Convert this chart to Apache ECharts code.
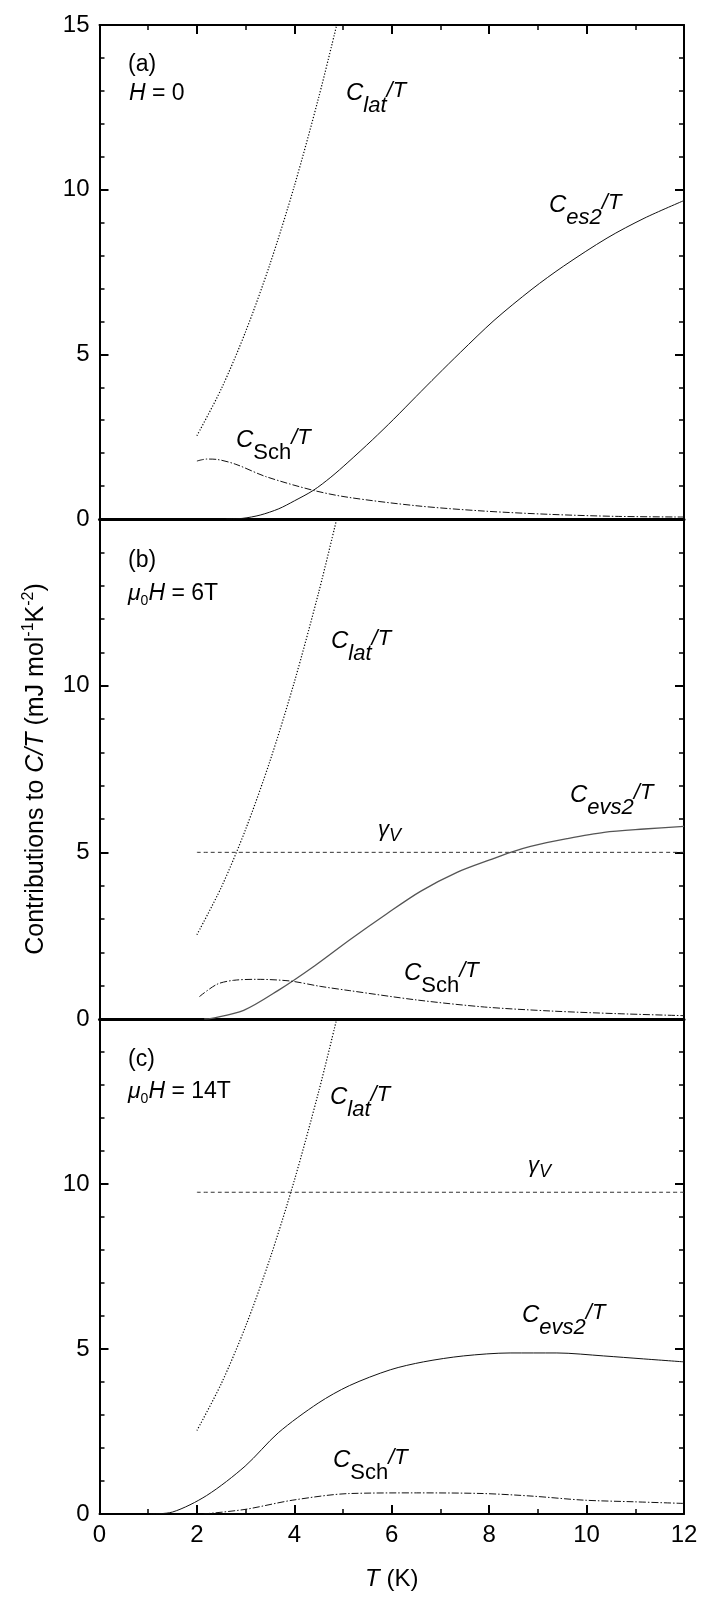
<!DOCTYPE html>
<html><head><meta charset="utf-8">
<script src="https://cdn.jsdelivr.net/npm/echarts@6/dist/echarts.min.js"></script>
<style>html,body{margin:0;padding:0;background:#fff}#c{width:702px;height:1597px}</style>
</head><body><div id="c"></div>
<script>
// ---- data ----
const xTicks = [0, 2, 4, 6, 8, 10, 12];
const yTicks = [0, 5, 10, 15];
// lattice contribution (same in every panel)
const latT = [2.0, 2.5, 3.0, 3.5, 4.0, 4.5, 4.87];
const latV = [2.53, 3.95, 5.69, 7.74, 10.11, 12.8, 15.0];
// panel (a) H = 0
const esT_a = [2.6, 2.94, 3.3, 3.68, 4.0, 4.39, 4.75, 5.1, 5.6, 6.04, 6.5, 6.93, 7.41, 8.1, 8.88, 9.53, 10.42, 11.18, 12.0];
const es_a  = [0.0, 0.02, 0.12, 0.31, 0.55, 0.87, 1.27, 1.72, 2.4, 3.03, 3.72, 4.36, 5.06, 6.03, 6.98, 7.68, 8.53, 9.13, 9.67];
const schT_a = [2.0, 2.2, 2.4, 2.8, 3.41, 4.39, 5.1, 6.52, 7.9, 9.26, 10.6, 12.0];
const sch_a  = [1.76, 1.82, 1.81, 1.66, 1.29, 0.87, 0.66, 0.40, 0.24, 0.14, 0.08, 0.06];
// panel (b) 6 T
const gammaB = 5.0;
const evsT_b = [2.15, 2.3, 2.96, 3.67, 4.42, 5.14, 5.9, 6.59, 7.34, 8.1, 8.44, 8.85, 9.6, 10.36, 11.18, 12.0];
const evs_b  = [0.0, 0.02, 0.26, 0.86, 1.6, 2.38, 3.16, 3.83, 4.4, 4.82, 5.0, 5.18, 5.41, 5.6, 5.70, 5.78];
const schT_b = [2.05, 2.41, 2.75, 3.23, 3.91, 4.53, 5.14, 6.52, 7.9, 9.26, 10.63, 12.0];
const sch_b  = [0.67, 1.04, 1.16, 1.19, 1.14, 0.98, 0.85, 0.57, 0.36, 0.24, 0.16, 0.10];
// panel (c) 14 T
const gammaC = 9.75;
const evsT_c = [1.04, 1.5, 2.2, 2.99, 3.67, 4.49, 5.13, 5.97, 6.65, 7.47, 8.43, 9.39, 10.35, 11.17, 12.0];
const evs_c  = [0.0, 0.06, 0.56, 1.45, 2.46, 3.36, 3.89, 4.37, 4.61, 4.79, 4.88, 4.88, 4.79, 4.70, 4.61];
const schT_c = [2.13, 2.99, 3.97, 5.13, 6.51, 7.88, 8.9, 9.94, 10.97, 12.0];
const sch_c  = [0.0, 0.14, 0.42, 0.62, 0.64, 0.62, 0.54, 0.42, 0.37, 0.32];

// ---- chart ----
const FF = '"Liberation Sans", Arial, Helvetica, sans-serif';
const zip = (a, b) => a.map((v, i) => [v, b[i]]);
const chart = echarts.init(document.getElementById('c'), null, {renderer: 'canvas'});

const L = 99.5, W = 584.5;
const panels = [{top: 25, h: 494}, {top: 519, h: 500}, {top: 1019, h: 495}];
const grids = panels.map(p => ({left: L, top: p.top, width: W, height: p.h, containLabel: false}));

function xAx(grid, pos, opts) {
  return Object.assign({
    type: 'value', gridIndex: grid, position: pos, min: xTicks[0], max: xTicks[xTicks.length - 1], interval: 2,
    axisLine: {show: true, onZero: false, lineStyle: {color: '#000', width: 2}},
    axisTick: {show: false}, minorTick: {show: false}, axisLabel: {show: false}, splitLine: {show: false}
  }, opts);
}
const tickOn = {show: true, inside: true, length: 9, lineStyle: {color: '#000', width: 2}};
const minorOn = (n) => ({show: true, splitNumber: n, length: 5, lineStyle: {color: '#000', width: 1.5}});
const xAxes = [
  xAx(0, 'bottom', {axisLine: {show: true, onZero: false, lineStyle: {color: '#000', width: 3}}}),
  xAx(0, 'top', {axisTick: tickOn, minorTick: minorOn(2)}),
  xAx(1, 'bottom', {axisLine: {show: true, onZero: false, lineStyle: {color: '#000', width: 3}}}),
  xAx(1, 'top', {axisLine: {show: false}}),
  xAx(2, 'bottom', {axisTick: tickOn, minorTick: minorOn(2),
    axisLabel: {show: true, fontSize: 24, fontFamily: FF, color: '#000', margin: 9},
    name: '{i|T} (K)', nameLocation: 'middle', nameGap: 53,
    nameTextStyle: {fontSize: 24, fontFamily: FF, color: '#000',
      rich: {i: {fontSize: 24, fontFamily: FF, fontStyle: 'italic', color: '#000'}}}}),
  xAx(2, 'top', {axisLine: {show: false}})
];
function yAx(grid, pos, opts) {
  return Object.assign({
    type: 'value', gridIndex: grid, position: pos, min: yTicks[0], max: yTicks[yTicks.length - 1], interval: 5,
    axisLine: {show: true, onZero: false, lineStyle: {color: '#000', width: 2}},
    axisTick: tickOn, minorTick: minorOn(5), splitLine: {show: false},
    axisLabel: {show: false}
  }, opts);
}
const ylab = (showMax) => ({show: true, fontSize: 24, fontFamily: FF, color: '#000', margin: 10, showMaxLabel: showMax, showMinLabel: true});
const yAxes = [
  yAx(0, 'left', {axisLabel: ylab(true)}),
  yAx(0, 'right'),
  yAx(1, 'left', {axisLabel: ylab(false),
    name: '{n|Contributions to }{i|C/T}{n| (mJ mol}{p|-1}{n|K}{p|-2}{n|)}',
    nameLocation: 'middle', nameGap: 47,
    nameTextStyle: {fontSize: 25, fontFamily: FF, color: '#000',
      rich: {
        n: {fontSize: 25, fontFamily: FF, color: '#000'},
        i: {fontSize: 25, fontFamily: FF, fontStyle: 'italic', color: '#000'},
        p: {fontSize: 16, fontFamily: FF, color: '#000', padding: [0, 0, 16, 0]}
      }}}),
  yAx(1, 'right'),
  yAx(2, 'left', {axisLabel: ylab(false)}),
  yAx(2, 'right')
];

const st = {
  lat: {color: '#000', width: 1.2, type: [1.2, 1.8]},
  gam: {color: '#333', width: 1, type: [4, 3]},
  sol: {color: '#111', width: 1},
  solB: {color: '#555', width: 1.3},
  sch: {color: '#111', width: 1, type: [7, 2, 1.5, 2]}
};
function ser(gi, data, ls) {
  return {type: 'line', xAxisIndex: gi * 2, yAxisIndex: gi * 2, data, showSymbol: false, symbol: 'none',
    smooth: 0.3, lineStyle: ls, silent: true, animation: false, z: 3};
}
const series = [
  ser(0, zip(latT, latV), st.lat),
  ser(0, zip(esT_a, es_a), st.sol),
  ser(0, zip(schT_a, sch_a), st.sch),
  ser(1, zip(latT, latV), st.lat),
  ser(1, [[2, gammaB], [12, gammaB]], st.gam),
  ser(1, zip(evsT_b, evs_b), st.solB),
  ser(1, zip(schT_b, sch_b), st.sch),
  ser(2, zip(latT, latV), st.lat),
  ser(2, [[2, gammaC], [12, gammaC]], st.gam),
  ser(2, zip(evsT_c, evs_c), st.sol),
  ser(2, zip(schT_c, sch_c), st.sch)
];

// ---- text annotations ----
const tk = (o) => Object.assign({fontFamily: FF, fill: '#000'}, o);
const R = {
  c: tk({fontSize: 24, fontStyle: 'italic'}),
  si: tk({fontSize: 22, fontStyle: 'italic', padding: [26, 0, 0, 0]}),
  su: tk({fontSize: 22, padding: [26, 0, 0, 0]}),
  t: tk({fontSize: 22, fontStyle: 'italic', padding: [0, 0, 4, 0]}),
  n: tk({fontSize: 23}),
  i: tk({fontSize: 23, fontStyle: 'italic'}),
  z: tk({fontSize: 14, padding: [14, 0, 0, 0]}),
  g: tk({fontSize: 22, fontStyle: 'italic'}),
  gs: tk({fontSize: 18, fontStyle: 'italic', padding: [12, 0, 0, 0]})
};
function lab(x, y, text) {
  return {type: 'text', x, y, silent: true, z: 10,
    style: {text, rich: R, fontFamily: FF, fontSize: 23, fill: '#000',
      align: 'left', verticalAlign: 'middle', textAlign: 'left', textVerticalAlign: 'middle'}};
}
const graphic = [
  lab(128, 65, '{n|(a)}'),
  lab(129, 94, '{i|H}{n| = 0}'),
  lab(346, 93, '{c|C}{si|lat}{t|/T}'),
  lab(549, 205, '{c|C}{si|es2}{t|/T}'),
  lab(236, 440, '{c|C}{su|Sch}{t|/T}'),

  lab(128, 561, '{n|(b)}'),
  lab(128, 594, '{i|μ}{z|0}{i|H}{n| = 6T}'),
  lab(331, 641, '{c|C}{si|lat}{t|/T}'),
  lab(378, 830, '{g|γ}{gs|V}'),
  lab(570, 795, '{c|C}{si|evs2}{t|/T}'),
  lab(404, 973, '{c|C}{su|Sch}{t|/T}'),

  lab(128, 1060, '{n|(c)}'),
  lab(128, 1092, '{i|μ}{z|0}{i|H}{n| = 14T}'),
  lab(330, 1097, '{c|C}{si|lat}{t|/T}'),
  lab(528, 1166, '{g|γ}{gs|V}'),
  lab(522, 1315, '{c|C}{si|evs2}{t|/T}'),
  lab(333, 1460, '{c|C}{su|Sch}{t|/T}')
];

chart.setOption({
  animation: false,
  backgroundColor: '#fff',
  textStyle: {fontFamily: FF},
  grid: grids, xAxis: xAxes, yAxis: yAxes, series, graphic
});
</script>
</body></html>
